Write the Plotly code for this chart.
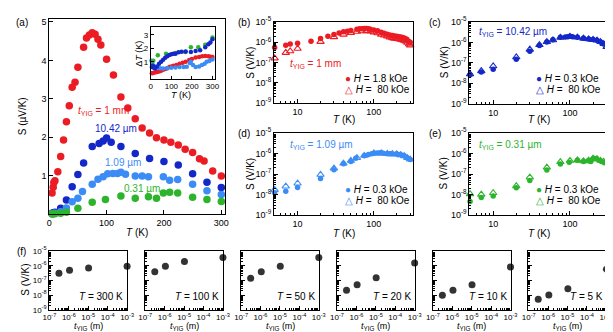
import plotly.graph_objects as go

W, H = 613, 332
FONT = "Liberation Sans, Arial, sans-serif"

RED = "#ec1c24"
DBLUE = "#1428c8"
LBLUE = "#3c8cf5"
GREEN = "#2db42d"
GRAY = "#333333"

# ---------------- data (S in uV/K) ----------------
T_red = [5, 7, 8, 10, 15, 20, 25, 30, 35, 40, 45, 50, 60, 65, 70, 75, 80, 85, 90, 100, 112, 125, 137,
         150, 162, 175, 187, 200, 212, 225, 237, 250, 262, 270, 285, 300]
S_red = [0.55, 0.7, 0.82, 0.87, 1.1, 1.5, 1.93, 2.4, 2.82, 3.3, 3.43, 3.82, 4.34, 4.58, 4.66, 4.72, 4.68,
         4.55, 4.4, 4.03, 3.62, 3.05, 2.76, 2.48, 2.24, 2.11, 1.99, 1.93, 1.87, 1.80, 1.69, 1.60, 1.44,
         1.38, 1.12, 0.99]
T_red_h = [5, 7, 8, 10, 20, 30, 40, 50, 60, 70, 80, 90, 100, 112, 125, 137, 150, 162, 175, 187, 200, 212,
           225, 237, 250, 262, 275, 290, 300]
S_red_h = [0.16, 0.30, 0.36, 0.48, 1.05, 1.8, 2.4, 2.9, 3.3, 3.5, 3.55, 3.4, 3.1, 2.8, 2.4, 2.15, 1.95,
           1.75, 1.6, 1.5, 1.45, 1.4, 1.35, 1.28, 1.2, 1.1, 0.95, 0.8, 0.7]

T_dblue = [5, 7, 10, 20, 30, 40, 50, 60, 75, 87, 94, 100, 108, 125, 150, 175, 200, 225, 250, 275, 300]
S_dblue = [0.026, 0.036, 0.048, 0.15, 0.37, 0.71, 1.03, 1.33, 1.76, 1.84, 1.90, 1.98, 1.87, 1.76, 1.58,
           1.45, 1.37, 1.28, 1.05, 0.83, 0.69]
T_dblue_h = [5, 7, 10, 20, 30, 40, 50, 60, 75, 100, 125, 150, 175, 200, 225, 250, 275, 300]
S_dblue_h = [0.028, 0.04, 0.069, 0.19, 0.45, 0.75, 1.05, 1.3, 1.7, 1.9, 1.75, 1.55, 1.45, 1.35, 1.25,
             1.05, 0.85, 0.6]

T_lblue = [5, 7, 10, 20, 30, 40, 50, 58, 75, 85, 94, 102, 111, 119, 125, 133, 150, 162, 173, 199, 210,
           224, 250, 275, 300]
S_lblue = [0.012, 0.0145, 0.022, 0.061, 0.16, 0.32, 0.41, 0.59, 0.78, 0.91, 0.97, 1.05, 1.06, 1.06, 1.09,
           1.04, 0.99, 0.99, 0.97, 0.97, 0.88, 0.9, 0.78, 0.61, 0.51]
T_lblue_h = [5, 7, 10, 20, 30, 40, 50, 60, 75, 100, 125, 150, 175, 200, 225, 250, 275, 300]
S_lblue_h = [0.017, 0.025, 0.035, 0.093, 0.19, 0.33, 0.45, 0.62, 0.8, 1.05, 1.05, 0.98, 0.95, 0.93, 0.87,
             0.76, 0.62, 0.52]

T_green = [5, 7, 10, 20, 30, 50, 75, 98, 125, 150, 173, 187, 199, 210, 224, 250, 275, 300]
S_green = [0.0045, 0.007, 0.0083, 0.021, 0.048, 0.155, 0.31, 0.38, 0.47, 0.41, 0.45, 0.41, 0.55, 0.57,
           0.55, 0.44, 0.38, 0.33]
T_green_h = [5, 7, 10, 20, 30, 50, 75, 100, 125, 150, 175, 200, 225, 250, 275, 300]
S_green_h = [0.0105, 0.010, 0.012, 0.026, 0.069, 0.21, 0.39, 0.45, 0.47, 0.43, 0.46, 0.58, 0.55, 0.45,
             0.4, 0.34]

# inset: Delta T (K) vs T (K)
Ti_green = [12, 34, 74, 121, 168, 195, 231, 265, 300]
dT_green = [1.07, 1.48, 1.6, 1.65, 1.72, 2.08, 2.08, 2.27, 2.8]
Ti_dblue = [5, 10, 15, 20, 30, 40, 50, 60, 70, 80, 90, 100, 110, 120, 135, 150, 170, 195, 218, 240,
            265, 280, 290, 300]
dT_dblue = [0.6, 0.7, 0.55, 0.5, 0.64, 0.85, 1.0, 1.15, 1.3, 1.4, 1.5, 1.55, 1.6, 1.6, 1.7, 1.75, 1.77,
            1.72, 1.8, 1.85, 2.08, 2.3, 2.44, 2.68]
Ti_red = [5, 10, 20, 30, 40, 50, 60, 70, 80, 90, 100, 110, 125, 140, 155, 170, 187, 200, 218, 235, 250,
          265, 280, 290, 300]
dT_red = [0.15, 0.16, 0.2, 0.23, 0.28, 0.33, 0.4, 0.45, 0.52, 0.6, 0.65, 0.7, 0.76, 0.85, 0.93, 1.0,
          1.12, 1.2, 1.31, 1.36, 1.41, 1.42, 1.41, 1.38, 1.36]
Ti_lblue = [3, 7, 12, 20, 30, 45, 60, 80, 100, 120, 140, 160, 175, 190, 195, 205, 218, 235, 249, 262,
            272, 285, 300]
dT_lblue = [1.07, 0.83, 0.7, 0.6, 0.55, 0.52, 0.5, 0.52, 0.55, 0.57, 0.6, 0.6, 0.62, 0.9, 1.0, 0.75,
            0.6, 0.65, 0.76, 0.85, 1.0, 1.05, 1.17]

# panel (f): S (V/K) vs t_YIG (m)
t_yig = [0.31e-6, 1.09e-6, 10.42e-6, 1e-3]
f_temps = [300, 100, 50, 20, 10, 5]
S_f_300 = [3.0e-7, 4.9e-7, 6.9e-7, 9.3e-7]
S_f_100 = [3.8e-7, 9.3e-7, 1.9e-6, 3.6e-6]
S_f_50 = [1.4e-7, 3.8e-7, 9.3e-7, 3.6e-6]
S_f_20 = [2.1e-8, 5.0e-8, 1.5e-7, 1.55e-6]
S_f_10 = [9.6e-9, 2.1e-8, 5.0e-8, 8.1e-7]
S_f_5 = [5.2e-9, 1.0e-8, 2.7e-8, 5.7e-7]
S_f = [S_f_300, S_f_100, S_f_50, S_f_20, S_f_10, S_f_5]

# tick labels
lin_T_ticks = [0, 100, 200, 300]
lin_S_ticks = [1, 2, 3, 4, 5]
inset_dT_ticks = [1, 2, 3]
log_S_ticks = [1e-9, 1e-8, 1e-7, 1e-6, 1e-5]
log_S_text = ["10<sup>-9</sup>", "10<sup>-8</sup>", "10<sup>-7</sup>", "10<sup>-6</sup>", "10<sup>-5</sup>"]
log_T_ticks = [10, 100]
log_T_text = ["10", "100"]
log_t_ticks = [1e-7, 1e-6, 1e-5, 1e-4, 1e-3]
log_t_text = ["10<sup>-7</sup>", "10<sup>-6</sup>", "10<sup>-5</sup>", "10<sup>-4</sup>", "10<sup>-3</sup>"]

S_minor = [m * 10.0 ** e for e in range(-9, -5) for m in range(2, 10)]
T_minor = [5, 6, 7, 8, 9, 20, 30, 40, 50, 60, 70, 80, 90, 200, 300]
t_minor = [m * 10.0 ** e for e in range(-7, -3) for m in range(2, 10)]


def dx(l, r):
    return [l / W, r / W]


def dy(t, b):
    return [1 - b / H, 1 - t / H]


def axis(domain, anchor, **kw):
    d = dict(domain=domain, anchor=anchor, showline=True, linecolor="black", linewidth=1, mirror=True,
             ticks="inside", ticklen=4, tickcolor="black", tickwidth=1, showgrid=False, zeroline=False,
             tickangle=0, tickfont=dict(family=FONT, size=9, color="black"))
    d.update(kw)
    return d


fig = go.Figure()
layout = {}

# (a)
layout["xaxis"] = axis(dx(35, 215), "y", range=[0, 306.6], tickvals=lin_T_ticks)
layout["yaxis"] = axis(dy(5, 207), "x", range=[0, 5.08], tickvals=lin_S_ticks)
for T, S, c in [(T_red, S_red, RED), (T_dblue, S_dblue, DBLUE), (T_lblue, S_lblue, LBLUE),
                (T_green, S_green, GREEN)]:
    fig.add_trace(go.Scatter(x=T, y=S, mode="markers", xaxis="x", yaxis="y", cliponaxis=False,
                             marker=dict(size=7.5, color=c, line=dict(width=0))))

# inset
layout["xaxis2"] = axis(dx(139, 205), "y2", range=[0, 314], tickvals=lin_T_ticks, ticklen=3,
                        tickfont=dict(family=FONT, size=8, color="black"))
layout["yaxis2"] = axis(dy(13, 67), "x2", range=[-0.27, 3.62], tickvals=inset_dT_ticks, ticklen=3,
                        tickfont=dict(family=FONT, size=8, color="black"))
for T, D, c in [(Ti_red, dT_red, RED), (Ti_lblue, dT_lblue, LBLUE), (Ti_green, dT_green, GREEN),
                (Ti_dblue, dT_dblue, DBLUE)]:
    fig.add_trace(go.Scatter(x=T, y=D, mode="markers", xaxis="x2", yaxis="y2", cliponaxis=False,
                             marker=dict(size=4.5, color=c, line=dict(width=0))))

# (b)-(e)
log_panels = [
    (3, (265, 407), (8, 92), T_red, S_red, T_red_h, S_red_h, RED),
    (4, (465, 608), (8, 93), T_dblue, S_dblue, T_dblue_h, S_dblue_h, DBLUE),
    (5, (265, 407), (123, 208), T_lblue, S_lblue, T_lblue_h, S_lblue_h, LBLUE),
    (6, (465, 608), (123, 208), T_green, S_green, T_green_h, S_green_h, GREEN),
]
minor_T = dict(ticks="inside", ticklen=2, tickcolor="black", tickmode="array", tickvals=T_minor)
minor_S = dict(ticks="inside", ticklen=2, tickcolor="black", tickmode="array", tickvals=S_minor)
for n, (l, r), (t, b), T, S, Th, Sh, c in log_panels:
    layout[f"xaxis{n}"] = axis(dx(l, r), f"y{n}", type="log", range=[0.69, 2.51], tickvals=log_T_ticks,
                               ticktext=log_T_text, minor=minor_T)
    layout[f"yaxis{n}"] = axis(dy(t, b), f"x{n}", type="log", range=[-9.01, -4.99], tickvals=log_S_ticks,
                               ticktext=log_S_text, minor=minor_S)
    fig.add_trace(go.Scatter(x=T, y=[v * 1e-6 for v in S], mode="markers", xaxis=f"x{n}", yaxis=f"y{n}",
                             cliponaxis=False, marker=dict(size=5.5, color=c, line=dict(width=0))))
    fig.add_trace(go.Scatter(x=Th, y=[v * 1e-6 for v in Sh], mode="markers", xaxis=f"x{n}",
                             yaxis=f"y{n}", cliponaxis=False,
                             marker=dict(size=6.5, symbol="triangle-up-open", color=c,
                                         line=dict(width=1.1, color=c))))

# (f)
minor_t = dict(ticks="inside", ticklen=2, tickcolor="black", tickmode="array", tickvals=t_minor)
minor_Sf = dict(ticks="inside", ticklen=2, tickcolor="black", tickmode="array", tickvals=S_minor)
for i, S in enumerate(S_f):
    n = 7 + i
    l = 35 + 98.1 * i
    layout[f"xaxis{n}"] = axis(dx(l, l + 80), f"y{n}", type="log", range=[-7.01, -2.985],
                               tickvals=log_t_ticks, ticktext=log_t_text, minor=minor_t,
                               tickfont=dict(family=FONT, size=8, color="black"))
    layout[f"yaxis{n}"] = axis(dy(245, 306), f"x{n}", type="log", range=[-9.01, -4.99], tickvals=log_S_ticks,
                               ticktext=log_S_text, minor=minor_Sf, showticklabels=(i == 0),
                               tickfont=dict(family=FONT, size=8, color="black"))
    fig.add_trace(go.Scatter(x=t_yig, y=S, mode="markers", xaxis=f"x{n}", yaxis=f"y{n}", cliponaxis=False,
                             marker=dict(size=7, color=GRAY, line=dict(width=0))))

# ---------------- annotations ----------------
anns = []


def ann(x, y, text, size=10, color="black", xanchor="center", yanchor="middle", angle=0):
    anns.append(dict(x=x / W, y=1 - y / H, xref="paper", yref="paper", text=text, showarrow=False,
                     xanchor=xanchor, yanchor=yanchor, textangle=angle,
                     font=dict(family=FONT, size=size, color=color)))


tY = "<i>t</i><sub>YIG</sub>"
# panel labels
for lab, x, y in [("(a)", 7, 9), ("(b)", 234, 9), ("(c)", 430, 9), ("(d)", 234, 124), ("(e)", 430, 124),
                  ("(f)", 7, 246)]:
    ann(x, y, lab, size=10)
# axis titles
ann(8, 106, "S (µV/K)", angle=-90)
ann(125, 226, "<i>T</i> (K)")
ann(127, 41, "Δ<i>T</i> (K)", size=9, angle=-90)
ann(170, 84, "<i>T</i> (K)", size=9)
for xc, yc, xt, yt in [(241, 50, 337, 109), (439, 50, 536, 109), (241, 165, 337, 227), (439, 165, 536, 227)]:
    ann(xc, yc, "S (V/K)", angle=-90)
    ann(xt, yt, "<i>T</i> (K)")
ann(11, 275, "S (V/K)", angle=-90)
for i, Tf in enumerate(f_temps):
    l = 35 + 98.1 * i
    ann(l + 40, 331, tY + " (m)", size=9, yanchor="bottom")
    ann(l + 78, 292, f"<i>T</i> = {Tf} K", xanchor="right")
# series labels in (a)
ann(62, 100, tY + " = 1 mm", color=RED, xanchor="left")
ann(80, 118, "10.42 µm", color=DBLUE, xanchor="left")
ann(90, 154, "1.09 µm", color=LBLUE, xanchor="left")
ann(110, 180, "0.31 µm", color=GREEN, xanchor="left")
# labels in (b)-(e)
ann(279, 52, tY + " = 1 mm", color=RED, xanchor="left")
ann(473, 19, tY + " = 10.42 µm", color=DBLUE, xanchor="left")
ann(279, 135, tY + " = 1.09 µm", color=LBLUE, xanchor="left")
ann(473, 135, tY + " = 0.31 µm", color=GREEN, xanchor="left")
# legends
for x, y, c, h in [(336, 67, RED, "1.8"), (531, 67, DBLUE, "0.3"), (336, 182, LBLUE, "0.3"),
                   (531, 182, GREEN, "0.3")]:
    ann(x, y, f'<span style="color:{c}">●</span> <i>H</i> = {h} kOe', xanchor="left")
    ann(x, y + 11, f'<span style="color:{c}">△</span> <i>H</i> =\u00a0 80 kOe', xanchor="left")

layout.update(dict(width=W, height=H, margin=dict(l=0, r=0, t=0, b=0), paper_bgcolor="white",
                   plot_bgcolor="white", showlegend=False, annotations=anns,
                   font=dict(family=FONT, size=10, color="black")))
fig.update_layout(**layout)
fig.write_html("out.html")
